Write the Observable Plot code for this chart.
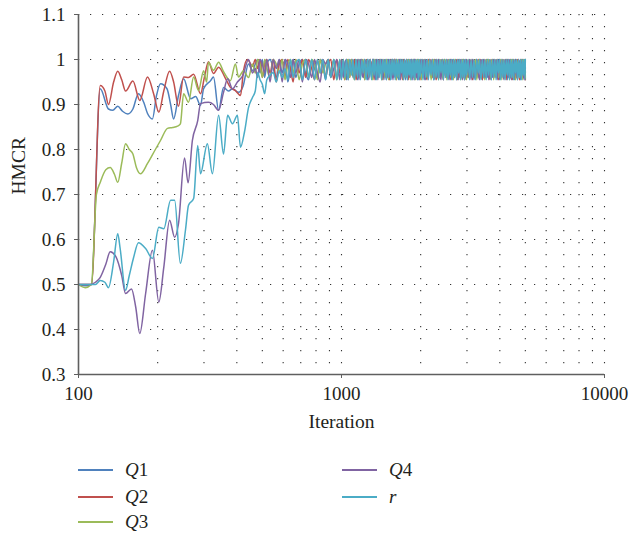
<!DOCTYPE html>
<html><head><meta charset="utf-8">
<script src="https://cdn.jsdelivr.net/npm/d3@7"></script>
<script src="https://cdn.jsdelivr.net/npm/@observablehq/plot@0.6"></script>
<style>
body{margin:0;background:#fff;width:630px;height:535px;overflow:hidden;font-family:"Liberation Serif","Times New Roman",Times,serif;}
#chart svg{display:block}
#legend{position:relative;width:630px;height:90px;font-size:19px;color:#231f20}
.item{position:absolute;display:flex;align-items:center;height:22px}
.swatch{width:35px;height:2px;margin-right:12px}
</style></head>
<body><div id="chart"></div><div id="legend"></div>
<script>
const seriesNames = ["Q1","Q2","Q3","Q4","r"];
const seriesColors = ["#4F81BD","#C0504D","#9BBB59","#8064A2","#4BACC6"];
const xTicks = [100, 1000, 10000];
const gridX = [200,300,400,500,600,700,800,900,1000,2000,3000,4000,5000,6000,7000,8000,9000,10000];
const yTicks = [0.3,0.4,0.5,0.6,0.7,0.8,0.9,1.0,1.1];

// early (distinct) part of each curve
const q1Iter = [100,106,112,121,130,135,141,147,154,161,169,177,183,191,198,205,217,224,230,240,251,267,279,291,299,318,326,341,356,372,385,406,422,443,459];
const q1Hmcr = [.5,.497,.5,.935,.89,.887,.896,.885,.879,.89,.924,.905,.88,.868,.92,.946,.935,.9,.868,.92,.957,.913,.918,.898,.935,.953,.961,.887,.938,.93,.935,.927,.94,.99,.975];
const q2Iter = [100,112,121,126,130,136,141,146,151,161,171,183,193,202,211,222,230,240,251,262,274,291,301,312,326,341,362,378,395,413,424,439,459];
const q2Hmcr = [.5,.5,.942,.93,.90,.95,.974,.955,.93,.952,.909,.961,.924,.883,.93,.974,.95,.896,.961,.96,.967,.924,.96,.995,.969,.983,.958,.938,.931,.92,.975,1,.985];
const q3Iter = [100,106,112,117,121,127,132,137,141,146,151,156,161,166,172,183,196,205,218,228,238,244,251,262,274,286,299,307,312,326,341,356,378,395,406,424,443,459];
const q3Hmcr = [.5,.493,.5,.7,.727,.755,.76,.745,.727,.77,.813,.80,.79,.76,.746,.769,.80,.82,.847,.849,.852,.857,.924,.905,.961,.931,.975,.95,.994,.976,.994,.973,.953,.99,.961,.975,.96,.99];
const q4Iter = [100,111,116,121,127,132,139,146,151,159,165,171,180,191,202,211,222,232,240,253,261,271,284,291,312,326,341,356,369,385,402,422,443,459];
const q4Hmcr = [.5,.5,.505,.516,.545,.573,.561,.52,.48,.49,.45,.391,.48,.576,.461,.538,.643,.605,.635,.781,.726,.82,.864,.902,.905,.9,.887,.927,.957,.935,.95,.965,1,.97];
const rIter = [100,116,121,126,130,136,141,144,151,156,162,169,180,191,202,211,224,232,244,255,262,274,284,291,309,323,341,356,369,385,402,413,428,443,459];
const rHmcr = [.5,.5,.509,.505,.493,.55,.613,.58,.487,.52,.56,.593,.58,.558,.627,.624,.687,.687,.547,.62,.676,.691,.809,.746,.813,.746,.876,.79,.876,.857,.876,.805,.84,.893,.916];

// converged band: shared iterations
const bandIter = [
  470,480,490,500,510,520,535,550,565,580, 595,610,625,640,655,670,690,710,730,750,
  770,790,810,830,850,870,890,910,935,960, 985,
  1000,1015,1030,1045,1060,1075,1090,1105,1120,1135, 1150,1165,1180,1195,1210,1225,1240,1255,1270,1285,
  1300,1315,1330,1345,1360,1375,1390,1405,1420,1435, 1450,1465,1480,1495,1510,1525,1540,1555,1570,1585,
  1600,1615,1630,1645,1660,1675,1690,1705,1720,1735, 1750,1765,1780,1795,1810,1825,1840,1855,1870,1885,
  1900,1915,1930,1945,1960,1975,1990,
  2015,2040,2065,2090,2115,2140,2165,2190,2215,2240, 2265,2290,2315,2340,2365,2390,2415,2440,2465,2490,
  2515,2540,2565,2590,2615,2640,2665,2690,2715,2740, 2765,2790,2815,2840,2865,2890,2915,2940,2965,2990,
  3030,3070,3110,3150,3190,3230,3270,3310,3350,3390, 3430,3470,3510,3550,3590,3630,3670,3710,3750,3790,
  3830,3870,3910,3950,3990,4030,4070,4110,4150,4190, 4230,4270,4310,4350,4390,4430,4470,4510,4550,4590,
  4630,4670,4710,4750,4790,4830,4870,4910,4950,4990, 5000
];
const q1Band = [
  .99,1,.97,1,.96,.99,1,.98,.96,1, .97,1,.95,.98,1,.96,.99,1,.97,.955, 1,.98,.96,1,.99,.955,1,.97,1,.96, .99,
  .96,1,.98,.955,1,.97,1,.96,.99,1, .955,1,.98,1,.96,1,.97,.955,1,.99, .96,1,1,.955,.98,1,.96,1,.97,1,
  .955,.99,1,.96,1,.98,.955,1,1,.97, .96,1,.99,.955,1,.97,1,.96,1,.98, .955,1,.97,1,.96,.99,1,.955,1,.98,
  .96,1,.97,.955,1,.99,1,
  .96,1,.98,.955,1,.97,1,.96,1,.99, .955,1,.97,1,.96,.98,1,.955,1,.97, 1,.96,.99,1,.955,1,.98,.96,1,.97, 1,.955,1,.99,.96,1,.97,.955,1,.98,
  .96,1,.97,1,.955,.99,1,.96,1,.98, .955,1,.97,1,.96,1,.99,.955,1,.97, 1,.96,.98,1,.955,1,.97,1,.96,.99,
  1,.955,1,.98,.96,1,.97,1,.955,1, .99,.96,1,.97,.955,1,.98,1,.96,1, .97
];
const q2Band = [
  1,.98,1,.96,.99,1,.97,1,.95,.99, 1,.96,1,.98,.95,1,.97,1,.96,1, .98,.955,1,.97,1,.96,.99,1,.955,1, .97,
  1,.97,.955,1,.99,.96,1,.98,1,.955, .97,1,.96,1,.99,.955,1,.97,.96,1, .98,1,.955,1,.97,.96,1,.99,1,.955,
  1,.97,.96,1,.98,.955,1,.99,.96,1, 1,.955,.97,1,.96,1,.98,.955,1,.97, .96,1,.99,.955,1,.97,1,.96,.98,1,
  .955,1,.97,1,.96,.99,.955,
  1,.96,1,.97,.955,1,.98,1,.96,.99, 1,.955,.97,1,.96,1,.98,.955,1,.97, .96,1,.99,.955,1,.97,1,.96,.98,1, .955,1,.97,.96,1,.99,1,.955,.97,1,
  .96,.98,1,.955,1,.97,.96,1,.99,1, .955,.97,1,.96,1,.98,.955,1,.97,1, .96,.99,1,.955,1,.97,.96,1,.98,1,
  .955,1,.97,.96,1,.99,.955,1,.97,1, .96,1,.98,.955,1,.97,1,.96,.99,1, .955
];
const q3Band = [
  .97,1,.99,.96,1,.98,.96,1,.99,.97, 1,.955,.99,1,.97,1,.955,.99,1,.96, 1,.99,.955,1,.97,.99,1,.96,1,.955, 1,
  .97,1,.955,.99,1,.96,1,.97,.955,1, .98,.96,1,.97,1,.955,.99,1,.96,1, .97,.955,1,.98,1,.96,.99,1,.955,.97,
  1,.96,1,.98,.955,1,.97,1,.96,.99, 1,.955,1,.97,.96,1,.98,1,.955,1, .97,.96,1,.99,1,.955,.98,1,.96,1,
  .97,.955,1,.98,1,.96,1,
  .955,1,.97,1,.96,.99,1,.955,.98,1, .96,1,.97,.955,1,.99,.96,1,.97,1, .955,.98,1,.96,1,.97,.955,1,.99,.96, 1,.97,1,.955,.98,1,.96,1,.97,.955,
  1,.98,.96,1,.97,1,.955,.99,1,.96, 1,.97,.955,1,.98,1,.96,.99,1,.955, 1,.97,1,.96,.98,1,.955,1,.97,.96,
  1,.99,1,.955,.97,1,.96,1,.98,.955, 1,.97,1,.96,.99,1,.955,1,.97,1, .96
];
const q4Band = [
  .98,.96,1,.99,.97,1,.95,1,.98,1, .95,1,.99,.96,1,.97,1,.95,1,.99, .96,1,.97,.95,1,.99,1,.96,.98,1, .955,
  1,.96,.99,1,.955,1,.97,1,.96,.98, 1,.955,1,.97,.96,1,.99,1,.955,1, .97,1,.96,.98,1,.955,1,.97,1,.96,
  .99,1,.955,.97,1,.96,1,.98,.955,1, .97,1,.96,.99,1,.955,1,.97,.96,1, .98,1,.955,1,.97,.96,1,.99,.955,1,
  1,.97,.96,1,.98,.955,1,
  .97,1,.955,1,.98,.96,1,.97,1,.955, .99,1,.96,1,.97,.955,1,.98,1,.96, 1,.97,.955,1,.99,.96,1,.97,1,.955, .98,1,.96,1,.97,.955,1,.99,.96,1,
  .97,1,.955,1,.98,.96,1,.97,.955,1, .99,1,.96,.97,1,.955,1,.98,.96,1, .97,1,.955,.99,1,.96,1,.97,.955,1,
  .98,1,.96,1,.97,.955,1,.99,.96,1, .97,.955,1,.98,1,.96,1,.97,.955,1, .98
];
const rBand = [
  .93,.971,.955,.945,.924,.955,.965,.971,.95,.975, .96,.98,.955,1,.96,.99,1,.955,1,.96, 1,.955,1,.97,1,.955,1,.96,1,.955, 1,
  .955,1,.96,1,.955,1,.965,1,.955,1, .96,1,.955,1,.97,1,.955,1,.96,1, .955,1,.965,1,.955,1,.96,1,.955,1,
  .97,1,.955,1,.96,1,.955,1,.965,1, .955,1,.96,1,.955,1,.97,1,.955,1, .96,1,.955,1,.965,1,.955,1,.96,1,
  .955,1,.97,1,.955,1,.96,
  1,.955,1,.96,1,.955,1,.965,1,.955, 1,.96,1,.955,1,.97,1,.955,1,.96, 1,.955,1,.965,1,.955,1,.96,1,.955, 1,.97,1,.955,1,.96,1,.955,1,.965,
  1,.955,1,.96,1,.955,1,.97,1,.955, 1,.96,1,.955,1,.965,1,.955,1,.96, 1,.955,1,.97,1,.955,1,.96,1,.955,
  1,.965,1,.955,1,.96,1,.955,1,.97, 1,.955,1,.96,1,.955,1,.965,1,.955, 1
];

const parts = [
  ["Q1", q1Iter, q1Hmcr, q1Band],
  ["Q2", q2Iter, q2Hmcr, q2Band],
  ["Q3", q3Iter, q3Hmcr, q3Band],
  ["Q4", q4Iter, q4Hmcr, q4Band],
  ["r",  rIter,  rHmcr,  rBand]
];
const rows = [];
for (const [name, it, val, band] of parts) {
  it.forEach((x, i) => rows.push({series: name, iter: x, hmcr: val[i]}));
  const n = Math.min(bandIter.length, band.length);
  for (let i = 0; i < n; i++) rows.push({series: name, iter: bandIter[i], hmcr: band[i]});
}

const fontStack = "'Liberation Serif','Times New Roman',Times,serif";
const axisGray = "#5f5f5f";
const chart = Plot.plot({
  width: 630, height: 445,
  marginLeft: 78, marginRight: 26, marginTop: 14, marginBottom: 71,
  style: {fontFamily: fontStack, fontSize: "19px", color: "#231f20", background: "white"},
  x: {type: "log", domain: [100, 10000]},
  y: {domain: [0.3, 1.1]},
  color: {domain: seriesNames, range: seriesColors},
  marks: [
    Plot.ruleY(yTicks.filter(d => d > 0.3), {stroke: "#333", strokeWidth: 1.1, strokeDasharray: "1.2,10.8"}),
    Plot.ruleX(gridX, {stroke: "#333", strokeWidth: 1.1, strokeDasharray: "1.2,10.8"}),
    Plot.line(rows, {x: "iter", y: "hmcr", z: "series", stroke: "series", curve: "monotone-x", strokeWidth: 1.5}),
    Plot.ruleY([0.3], {stroke: axisGray, strokeWidth: 1.6}),
    Plot.ruleX([100], {stroke: axisGray, strokeWidth: 1.6}),
    Plot.axisX({ticks: xTicks, tickFormat: d => String(d), tickSize: 4, tickPadding: 8, stroke: axisGray, label: null, fontSize: 19}),
    Plot.axisY({ticks: yTicks, tickFormat: d => String(d), tickSize: 4, tickPadding: 9, stroke: axisGray, label: null, fontSize: 19}),
    Plot.text(["Iteration"], {frameAnchor: "bottom", dy: 53, fontSize: 19.5, fill: "#231f20"}),
    Plot.text(["HMCR"], {frameAnchor: "left", dx: -60, rotate: -90, fontSize: 19.5, fill: "#231f20"})
  ]
});
document.getElementById("chart").appendChild(chart);

const legend = document.getElementById("legend");
const legendPos = [[78, 14], [78, 40.5], [78, 66], [342, 14], [342, 40.5]];
seriesNames.forEach((name, i) => {
  const item = document.createElement("div");
  item.className = "item";
  item.style.left = legendPos[i][0] + "px";
  item.style.top = legendPos[i][1] + "px";
  const sw = document.createElement("span");
  sw.className = "swatch";
  sw.style.background = seriesColors[i];
  const label = document.createElement("span");
  label.innerHTML = name === "r" ? "<i>r</i>" : "<i>Q</i>" + name.slice(1);
  item.appendChild(sw); item.appendChild(label);
  legend.appendChild(item);
});
</script>
</body></html>
